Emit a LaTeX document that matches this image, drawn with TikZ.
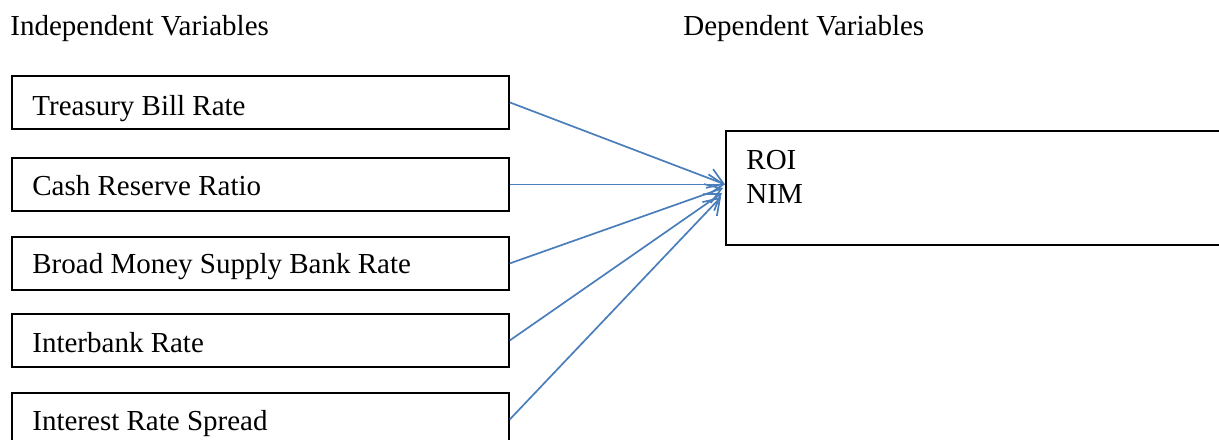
\documentclass[tikz,border=0pt]{standalone}
\usepackage{fontspec}
\setmainfont{Liberation Serif}
\usetikzlibrary{arrows.meta}
\definecolor{arrowblue}{HTML}{4A7EBB}
\begin{document}
\begin{tikzpicture}[x=0.5pt,y=-0.5pt,
  box/.style={draw=black, line width=0.9pt, rectangle, inner sep=0pt, anchor=north west},
  leftbox/.style={box, minimum width=248.5pt, minimum height=26.5pt},
  txt/.style={inner sep=0pt, anchor=base west, font=\fontsize{14.5pt}{17pt}\selectfont},
  arr/.style={draw=arrowblue, line width=0.85pt, -{Straight Barb[length=7.5pt,width=10pt,line width=0.85pt]}}
]
\useasboundingbox (0,0) rectangle (1219,439);
\clip (0,0) rectangle (1219,439);
\node[txt] (h1) at (10,35) {Independent Variables};
\node[txt] (h2) at (683,35) {Dependent Variables};
\node[leftbox] (b1) at (11,75) {};
\node[leftbox] (b2) at (11,157) {};
\node[leftbox] (b3) at (11,236) {};
\node[leftbox] (b4) at (11,313) {};
\node[leftbox] (b5) at (11,392) {};
\node[txt] (t1) at (32,115) {Treasury Bill Rate};
\node[txt] (t2) at (32,195) {Cash Reserve Ratio};
\node[txt] (t3) at (32,273) {Broad Money Supply Bank Rate};
\node[txt] (t4) at (32,352) {Interbank Rate};
\node[txt] (t5) at (32,430) {Interest Rate Spread};
\node[box, minimum width=252pt, minimum height=57pt] (roi) at (725,130) {};
\node[txt] (r1) at (746,169) {ROI};
\node[txt] (r2) at (746,203) {NIM};
\coordinate (e1) at (b2.east -| roi.west);
\coordinate (e2) at (b2.east -| roi.west);
\coordinate (e3) at (723,188);
\coordinate (e4) at (722,193);
\coordinate (e5) at (721,197);
\draw[arr] (b1.east) -- (e1);
\draw[arr] (b2.east) -- (e2);
\draw[arr] (b3.east) -- (e3);
\draw[arr] (b4.east) -- (e4);
\draw[arr] (b5.east) -- (e5);
\end{tikzpicture}
\end{document}
